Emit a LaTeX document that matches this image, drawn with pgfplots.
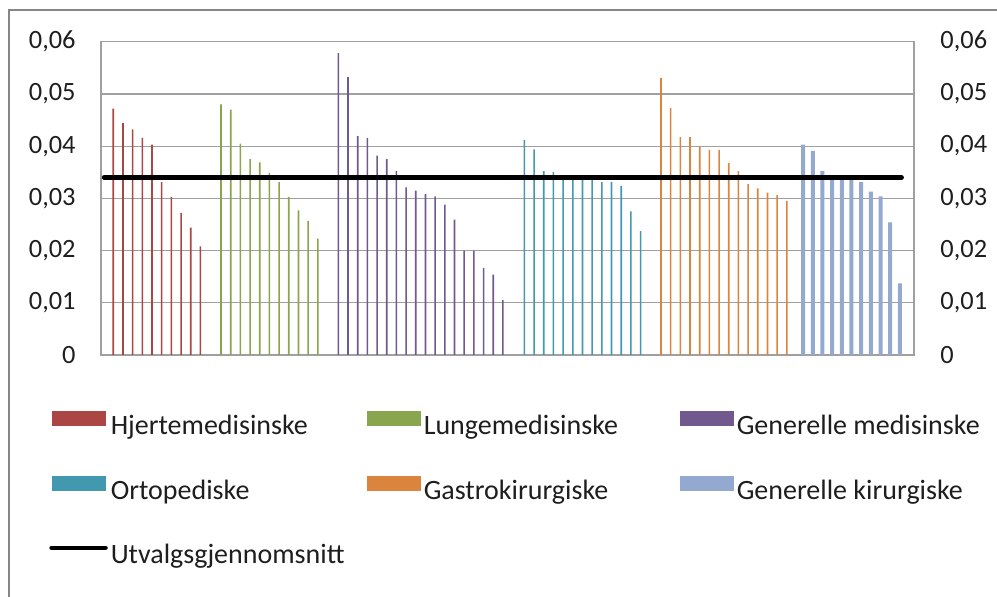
\documentclass[border=0pt]{standalone}
\usepackage{fontspec}
\setmainfont{Carlito}
\usepackage{pgfplots}
\pgfplotsset{compat=1.18}
\definecolor{cRed}{HTML}{AA4643}
\definecolor{cGreen}{HTML}{89A54E}
\definecolor{cPurple}{HTML}{71588F}
\definecolor{cTeal}{HTML}{4198AF}
\definecolor{cOrange}{HTML}{DB843D}
\definecolor{cBlue}{HTML}{93A9CF}
\definecolor{gridgray}{RGB}{160,160,160}
\definecolor{txt}{RGB}{30,30,30}
\pgfplotsset{
  barleg/.style={legend image code/.code={\fill[##1] (0pt,0pt) rectangle (27pt,7.5pt);}},
  lineleg/.style={legend image code/.code={\draw[##1] (0pt,3.7pt) -- (27pt,3.7pt);}},
  common/.style={
    at={(50.5pt,121pt)}, anchor=south west,
    scale only axis, width=406.5pt, height=156.65pt,
    xmin=-1.27, xmax=82.72, ymin=0, ymax=0.06,
    ytick={0,0.01,0.02,0.03,0.04,0.05,0.06}, xtick=\empty,
    major tick length=0pt, scaled y ticks=false,
    tick label style={font=\fontsize{13.2}{15}\selectfont, text=txt},
    /pgf/number format/.cd, fixed, precision=2, use comma, assume math mode=true,
  },
}
\begin{document}
\begin{tikzpicture}
\useasboundingbox (0pt,0pt) rectangle (498.5pt,298.5pt);
\draw[color=gray!95, line width=1pt] (4.6pt,-5pt) -- (4.6pt,293.5pt) -- (505pt,293.5pt);
\begin{axis}[common,
  ymajorgrids, grid style={color=gridgray, line width=0.6pt},
  axis line style={color=gridgray, line width=0.6pt},
  yticklabel style={inner sep=0pt, xshift=-12.5pt},
  legend columns=3, legend cell align=left,
  legend style={at={(axis description cs:-0.064,-0.177)}, anchor=north west,
    draw=none, fill=none, inner sep=0pt, column sep=0pt, row sep=17.9pt,
    font=\fontsize{14}{16}\selectfont, text=txt, nodes={inner sep=1.5pt}},
]
\addplot[ybar, bar width=0.8pt, bar shift=0pt, fill=cRed, draw=none, barleg] coordinates {
  (0,0.0472) (1,0.0444) (2,0.0432) (3,0.0416) (4,0.0403)
  (5,0.0331) (6,0.0303) (7,0.0272) (8,0.0244) (9,0.0208)
};
\addlegendentry{\makebox[126.5pt][l]{Hjertemedisinske}}
\addplot[ybar, bar width=0.8pt, bar shift=0pt, fill=cGreen, draw=none, barleg] coordinates {
  (11.13,0.0480) (12.13,0.0470) (13.13,0.0405) (14.13,0.0375) (15.13,0.0369)
  (16.13,0.0349) (17.13,0.0331) (18.13,0.0303) (19.13,0.0277) (20.13,0.0257)
  (21.13,0.0223)
};
\addlegendentry{\makebox[126.5pt][l]{Lungemedisinske}}
\addplot[ybar, bar width=0.8pt, bar shift=0pt, fill=cPurple, draw=none, barleg] coordinates {
  (23.25,0.0578) (24.25,0.0532) (25.25,0.0419) (26.25,0.0416) (27.25,0.0382)
  (28.25,0.0375) (29.25,0.0352) (30.25,0.0321) (31.25,0.0315) (32.25,0.0308)
  (33.25,0.0304) (34.25,0.0288) (35.25,0.0259) (36.25,0.0200) (37.25,0.0200)
  (38.25,0.0167) (39.25,0.0154) (40.25,0.0105)
};
\addlegendentry{\makebox[126.5pt][l]{Generelle medisinske}}
\addplot[ybar, bar width=0.8pt, bar shift=0pt, fill=cTeal, draw=none, barleg] coordinates {
  (42.47,0.0412) (43.47,0.0394) (44.47,0.0352) (45.47,0.0350) (46.47,0.0337)
  (47.47,0.0337) (48.47,0.0336) (49.47,0.0335) (50.47,0.0331) (51.47,0.0331)
  (52.47,0.0324) (53.47,0.0275) (54.47,0.0237)
};
\addlegendentry{\makebox[126.5pt][l]{Ortopediske}}
\addplot[ybar, bar width=0.8pt, bar shift=0pt, fill=cOrange, draw=none, barleg] coordinates {
  (56.58,0.0530) (57.58,0.0473) (58.58,0.0417) (59.58,0.0417) (60.58,0.0399)
  (61.58,0.0393) (62.58,0.0393) (63.58,0.0368) (64.58,0.0352) (65.58,0.0327)
  (66.58,0.0319) (67.58,0.0311) (68.58,0.0306) (69.58,0.0295)
};
\addlegendentry{\makebox[126.5pt][l]{Gastrokirurgiske}}
\addplot[ybar, bar width=2pt, bar shift=0pt, fill=cBlue, draw=none, barleg] coordinates {
  (71.26,0.0403) (72.26,0.0391) (73.26,0.0352) (74.26,0.0335) (75.26,0.0335)
  (76.26,0.0335) (77.26,0.0331) (78.26,0.0313) (79.26,0.0304) (80.26,0.0254)
  (81.26,0.0137)
};
\addlegendentry{\makebox[126.5pt][l]{Generelle kirurgiske}}
\addplot[black, line width=2.2pt, line cap=round, mark=none, lineleg] coordinates {
  (-0.96,0.034) (81.45,0.034)
};
\addlegendentry{\makebox[126.5pt][l]{Utvalgsgjennomsnitt}}
\end{axis}
\begin{axis}[common,
  axis x line=none, axis y line*=right, axis line style={draw=none},
  yticklabel style={inner sep=0pt, xshift=13pt},
]
\addplot[draw=none, forget plot] coordinates {(0,0)};
\end{axis}
\end{tikzpicture}
\end{document}
